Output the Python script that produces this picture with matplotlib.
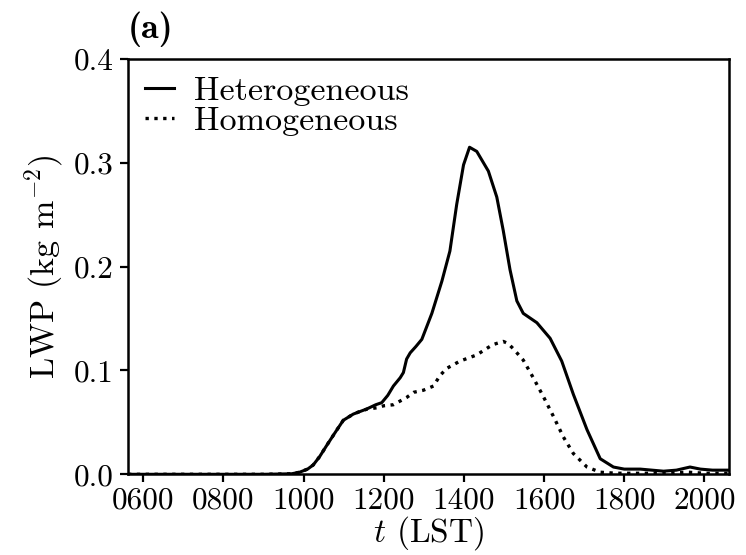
import matplotlib
matplotlib.use("Agg")
import matplotlib.pyplot as plt
from matplotlib.ticker import FuncFormatter

plt.rcParams['font.family'] = ['cmr10', 'DejaVu Serif']
plt.rcParams['mathtext.fontset'] = 'cm'
plt.rcParams['axes.unicode_minus'] = False

# Heterogeneous (solid)
t_het = [5.62, 9.0, 9.7, 9.9, 10.1, 10.24, 10.4, 10.58, 10.8, 10.99, 11.24, 11.58,
         11.8, 11.95, 12.1, 12.24, 12.41, 12.49, 12.57, 12.66, 12.8, 12.95, 13.2,
         13.45, 13.65, 13.82, 13.99, 14.14, 14.32, 14.61, 14.82, 14.98, 15.15, 15.32,
         15.48, 15.82, 16.15, 16.44, 16.73, 17.07, 17.4, 17.73, 18.0, 18.4, 18.98,
         19.3, 19.64, 19.9, 20.2, 20.62]
lwp_het = [0.0, 0.0, 0.0005, 0.002, 0.005, 0.009, 0.017, 0.028, 0.041, 0.052, 0.058, 0.063,
           0.067, 0.069, 0.076, 0.085, 0.093, 0.098, 0.111, 0.117, 0.123, 0.130, 0.155,
           0.186, 0.215, 0.260, 0.298, 0.315, 0.311, 0.292, 0.267, 0.235, 0.197, 0.167,
           0.155, 0.146, 0.131, 0.109, 0.077, 0.043, 0.015, 0.007, 0.005, 0.005, 0.003,
           0.004, 0.007, 0.005, 0.004, 0.004]

# Homogeneous (dotted)
t_hom = [5.62, 9.0, 9.7, 9.9, 10.1, 10.24, 10.4, 10.58, 10.8, 10.99, 11.24, 11.37,
         11.6, 11.82, 12.0, 12.24, 12.57, 12.75, 12.99, 13.24, 13.4, 13.57, 13.9,
         14.32, 14.6, 14.73, 14.98, 15.1, 15.23, 15.48, 15.73, 15.98, 16.23, 16.48,
         16.73, 17.07, 17.4, 17.8, 19.0, 19.6, 20.0, 20.62]
lwp_hom = [0.0, 0.0, 0.0005, 0.002, 0.005, 0.009, 0.017, 0.028, 0.041, 0.052, 0.058, 0.060,
           0.063, 0.064, 0.066, 0.067, 0.074, 0.079, 0.081, 0.085, 0.095, 0.102, 0.109,
           0.115, 0.122, 0.125, 0.128, 0.126, 0.121, 0.110, 0.093, 0.075, 0.056, 0.036,
           0.020, 0.007, 0.002, 0.001, 0.001, 0.002, 0.001, 0.001]

x_ticks = [6, 8, 10, 12, 14, 16, 18, 20]
x_ticklabels = ['0600', '0800', '1000', '1200', '1400', '1600', '1800', '2000']
y_ticks = [0.0, 0.1, 0.2, 0.3, 0.4]

fs_tick = 22.5
fs_lab = 24.5
fig = plt.figure(figsize=(7.46, 5.55), dpi=100)
ax = fig.add_axes([0.1716, 0.1454, 0.9776 - 0.1716, 0.8937 - 0.1454])

ax.plot(t_het, lwp_het, color='black', lw=2.2, ls='-', label='Heterogeneous')
ax.plot(t_hom, lwp_hom, color='black', lw=2.4, ls=':', label='Homogeneous')

ax.set_xlim(5.62, 20.62)
ax.set_ylim(0.0, 0.4)
ax.set_xticks(x_ticks)
ax.set_xticklabels(x_ticklabels)
ax.set_yticks(y_ticks)
ax.yaxis.set_major_formatter(FuncFormatter(lambda v, p: f'{v:.1f}'))
ax.tick_params(axis='both', direction='out', length=6, width=1.6, labelsize=fs_tick, pad=4)
ax.tick_params(axis='x', pad=2.5)

for s in ax.spines.values():
    s.set_linewidth(1.8)

ax.set_xlabel(r'$t$ (LST)', fontsize=24, labelpad=0)
ax.set_ylabel(r'LWP (kg m$^{-2}$)', fontsize=fs_lab, labelpad=6)
ax.set_title('(a)', loc='left', fontsize=26, pad=15, family='cmb10')

leg = ax.legend(loc='upper left', frameon=False, fontsize=fs_lab, handlelength=0.85,
                handletextpad=0.6, borderaxespad=0.1, labelspacing=0.02)

fig.savefig('out.png', dpi=100)
